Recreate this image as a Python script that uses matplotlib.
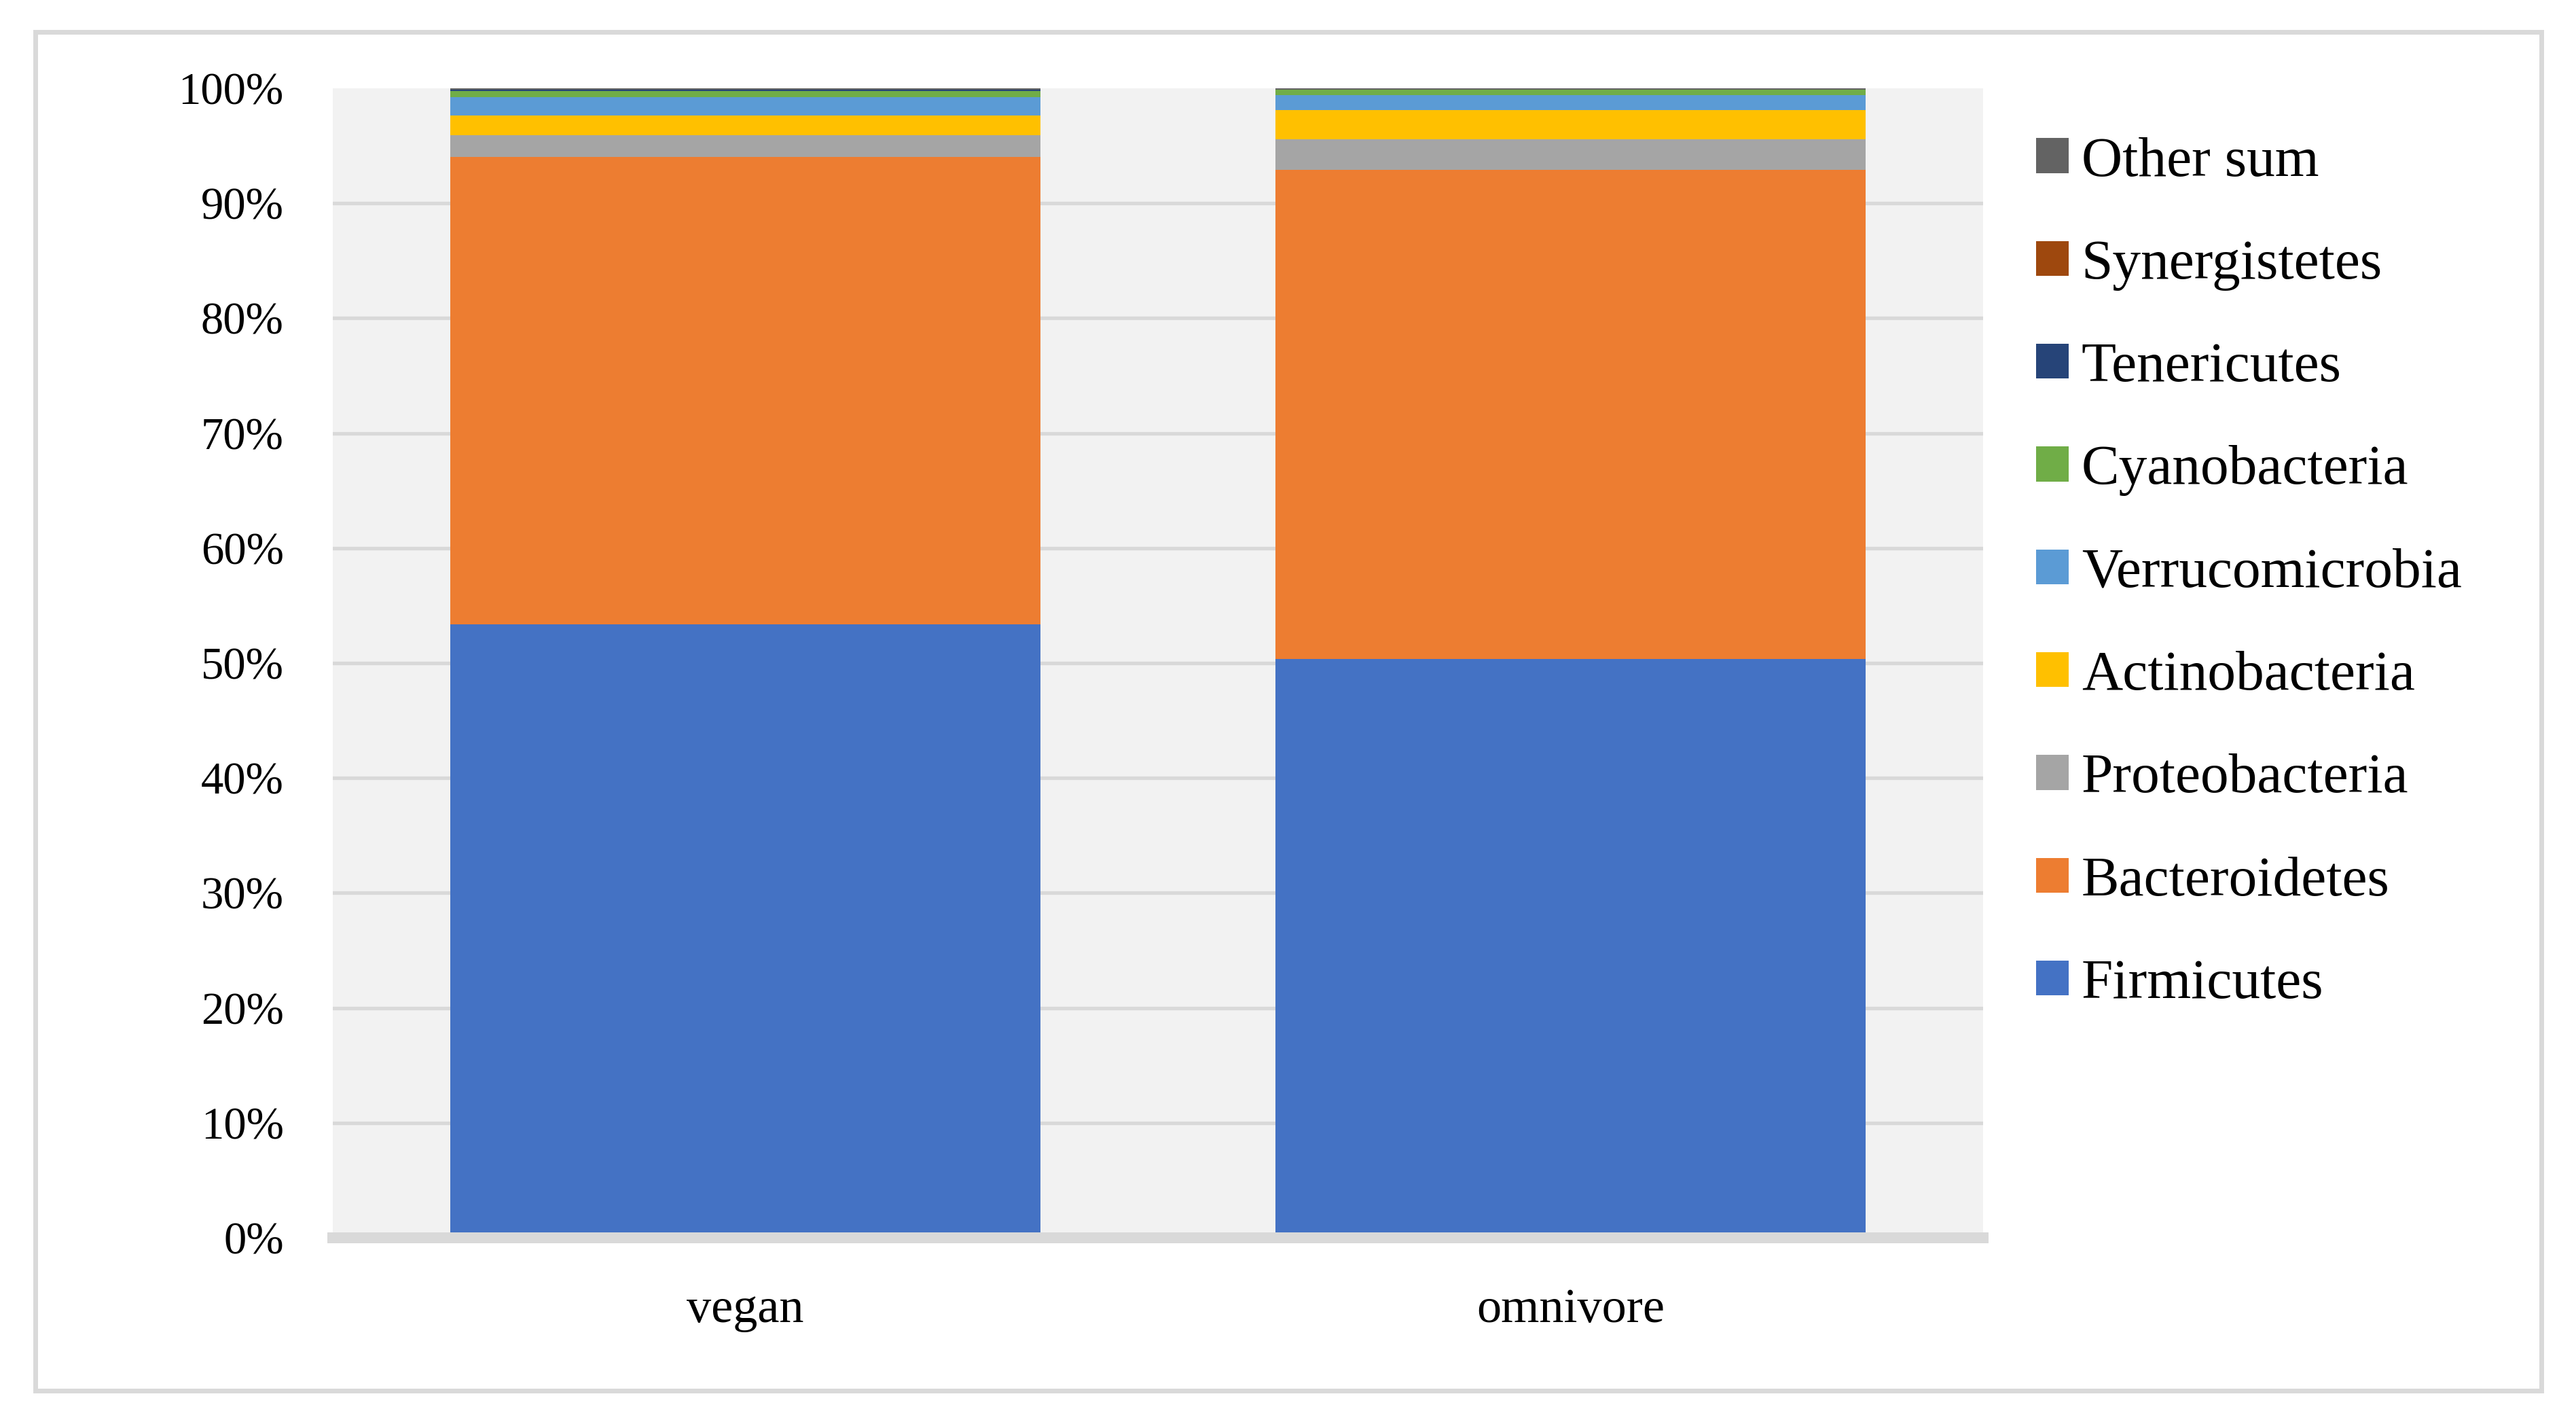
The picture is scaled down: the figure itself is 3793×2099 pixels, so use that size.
#stacked bars: phyla share, vegan vs omnivore
import matplotlib
matplotlib.use('Agg')
import matplotlib.pyplot as plt
from matplotlib.patches import Rectangle

plt.rcParams['font.family'] = ['Liberation Serif', 'DejaVu Serif']

#dados (% de abundancia relativa)
groups = ['vegan', 'omnivore']
phyla = ['Firmicutes', 'Bacteroidetes', 'Proteobacteria', 'Actinobacteria',
         'Verrucomicrobia', 'Cyanobacteria', 'Tenericutes', 'Synergistetes', 'Other sum']
vegan = [53.35, 40.70, 1.90, 1.70, 1.60, 0.50, 0.13, 0.02, 0.10]
omnivore = [50.35, 42.55, 2.66, 2.54, 1.30, 0.47, 0.03, 0.01, 0.12]
colors = ['#4472C4', '#ED7D31', '#A5A5A5', '#FFC000', '#5B9BD5',
          '#70AD47', '#264478', '#9E480E', '#636363']

W, H = 3793, 2099
fig = plt.figure(figsize=(W / 100, H / 100), dpi=100)
ax = fig.add_axes([490 / W, 1 - 1822 / H, 2430 / W, (1822 - 130) / H])
ax.set_facecolor('#F2F2F2')

#barras empilhadas
x = range(len(groups))
bottom = [0, 0]
handles = []
for i, name in enumerate(phyla):
    vals = [vegan[i] / 100, omnivore[i] / 100]
    b = ax.bar(x, vals, 0.715, bottom=bottom, color=colors[i], label=name, zorder=3)
    handles.append(b)
    bottom = [bottom[k] + vals[k] for k in range(2)]

ax.set_xlim(-0.5, 1.5)
ax.set_ylim(0, 1)
ax.set_yticks([i / 10 for i in range(11)])
ax.set_yticklabels([f'{i * 10}%' for i in range(11)], fontsize=48)
ax.set_xticks(list(x))
ax.set_xticklabels(groups, fontsize=52)
ax.tick_params(axis='y', length=0, pad=52)
ax.tick_params(axis='x', length=0, pad=53)

ax.grid(axis='y', color='#D9D9D9', linewidth=3.8, zorder=1)
ax.set_axisbelow(True)
for s in ['top', 'right', 'left']:
    ax.spines[s].set_visible(False)
ax.spines['bottom'].set_color('#D9D9D9')
ax.spines['bottom'].set_linewidth(11.5)
ax.spines['bottom'].set_zorder(5)
gl = ax.yaxis.get_gridlines()
gl[0].set_visible(False)
gl[-1].set_visible(False)

#legenda (ordem invertida)
fig.legend(handles[::-1], phyla[::-1], loc='upper left',
           bbox_to_anchor=(2998 / W, 1 - 201 / H), frameon=False, fontsize=60,
           handlelength=0.57, handleheight=0.57, handletextpad=0.23,
           labelspacing=0.91, borderpad=0, borderaxespad=0)

#moldura externa
fig.patches.append(Rectangle((52 / W, 1 - 2047 / H), 3690 / W, 2000 / H,
                             transform=fig.transFigure, fill=False,
                             edgecolor='#D9D9D9', linewidth=5))

fig.savefig('out.png', dpi=100)
